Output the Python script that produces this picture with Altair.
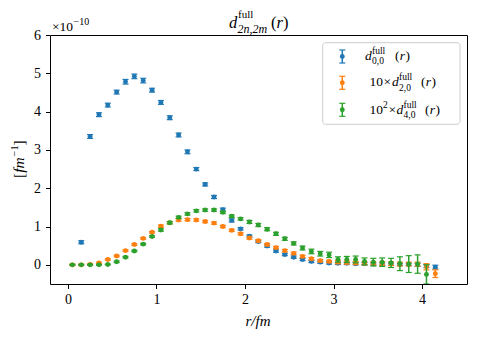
import altair as alt
import pandas as pd

# ---------------- data (units of 1e-10 fm^-1) ----------------
r_blue = [0.15, 0.25, 0.35, 0.45, 0.55, 0.65, 0.75, 0.85, 0.95, 1.05,
          1.15, 1.25, 1.35, 1.45, 1.55, 1.65, 1.75, 1.85, 1.95, 2.05,
          2.15, 2.25, 2.35, 2.45, 2.55, 2.65, 2.75, 2.85, 2.95, 3.05,
          3.15, 3.25, 3.35, 3.45, 3.55, 3.65, 3.75, 3.85, 3.95, 4.05, 4.15]
d00 = [0.59, 3.35, 3.92, 4.17, 4.51, 4.78, 4.92, 4.81, 4.56, 4.24,
       3.84, 3.39, 2.95, 2.50, 2.10, 1.77, 1.44, 1.16, 0.94, 0.75,
       0.61, 0.49, 0.36, 0.27, 0.20, 0.14, 0.09, 0.07, 0.05, 0.04,
       0.04, 0.03, 0.03, 0.02, 0.02, 0.02, 0.01, 0.01, 0.00, -0.03, -0.06]
d00_err = [0.04, 0.05, 0.05, 0.05, 0.05, 0.06, 0.06, 0.06, 0.05, 0.05,
           0.05, 0.05, 0.05, 0.04, 0.04, 0.04, 0.04, 0.04, 0.03, 0.03,
           0.03, 0.03, 0.03, 0.03, 0.03, 0.03, 0.03, 0.03, 0.03, 0.03,
           0.03, 0.03, 0.03, 0.03, 0.03, 0.03, 0.03, 0.03, 0.04, 0.04, 0.05]

r_orange = [0.05, 0.15, 0.25, 0.35, 0.45, 0.55, 0.65, 0.75, 0.85, 0.95,
            1.05, 1.15, 1.25, 1.35, 1.45, 1.55, 1.65, 1.75, 1.85, 1.95,
            2.05, 2.15, 2.25, 2.35, 2.45, 2.55, 2.65, 2.75, 2.85, 2.95,
            3.05, 3.15, 3.25, 3.35, 3.45, 3.55, 3.65, 3.75, 3.85, 3.95,
            4.05, 4.15]
d20 = [0.00, 0.00, 0.01, 0.05, 0.14, 0.23, 0.37, 0.53, 0.69, 0.85,
       1.01, 1.10, 1.17, 1.18, 1.17, 1.13, 1.09, 1.00, 0.90, 0.81,
       0.70, 0.63, 0.53, 0.45, 0.37, 0.30, 0.22, 0.16, 0.11, 0.09,
       0.07, 0.06, 0.05, 0.04, 0.04, 0.03, 0.03, 0.02, 0.02, 0.02,
       -0.05, -0.23]
d20_err = [0.02, 0.02, 0.02, 0.02, 0.02, 0.02, 0.02, 0.02, 0.02, 0.02,
           0.03, 0.03, 0.03, 0.03, 0.03, 0.03, 0.03, 0.03, 0.03, 0.03,
           0.03, 0.03, 0.03, 0.03, 0.03, 0.03, 0.03, 0.03, 0.03, 0.03,
           0.04, 0.04, 0.04, 0.04, 0.04, 0.05, 0.05, 0.05, 0.05, 0.05,
           0.08, 0.10]

r_green = [0.05, 0.15, 0.25, 0.35, 0.45, 0.55, 0.65, 0.75, 0.85, 0.95,
           1.05, 1.15, 1.25, 1.35, 1.45, 1.55, 1.65, 1.75, 1.85, 1.95,
           2.05, 2.15, 2.25, 2.35, 2.45, 2.55, 2.65, 2.75, 2.85, 2.95,
           3.05, 3.15, 3.25, 3.35, 3.45, 3.55, 3.65, 3.75, 3.85, 3.95,
           4.05]
d40 = [0.00, 0.00, 0.00, 0.00, 0.01, 0.08, 0.20, 0.36, 0.54, 0.74,
       0.91, 1.10, 1.24, 1.33, 1.41, 1.43, 1.43, 1.37, 1.27, 1.20,
       1.12, 1.04, 0.93, 0.81, 0.68, 0.56, 0.44, 0.35, 0.29, 0.26,
       0.14, 0.14, 0.14, 0.09, 0.07, 0.07, 0.05, 0.03, 0.02, 0.02,
       -0.25]
d40_err = [0.01, 0.01, 0.01, 0.01, 0.01, 0.02, 0.02, 0.02, 0.02, 0.02,
           0.03, 0.03, 0.03, 0.03, 0.03, 0.03, 0.03, 0.03, 0.03, 0.03,
           0.04, 0.04, 0.04, 0.04, 0.04, 0.04, 0.05, 0.06, 0.06, 0.07,
           0.07, 0.08, 0.09, 0.09, 0.10, 0.11, 0.12, 0.18, 0.22, 0.24,
           0.25]

x_ticks = [0, 1, 2, 3, 4]
y_ticks = [0, 1, 2, 3, 4, 5, 6]

series = [
    ("d00", r_blue, d00, d00_err, "#1f77b4"),
    ("d20", r_orange, d20, d20_err, "#ff7f0e"),
    ("d40", r_green, d40, d40_err, "#2ca02c"),
]

FONT = "Liberation Serif"
W, H = 417, 249

xs = alt.Scale(domain=[-0.203, 4.508], nice=False, zero=False)
ys = alt.Scale(domain=[-0.5, 6.0], nice=False, zero=False)

axis_common = dict(title=None, grid=False, domain=False, tickSize=4.5, tickWidth=1,
                   tickColor="black", labelFont=FONT, labelFontSize=14,
                   labelColor="black", format="d")
xax = alt.Axis(values=x_ticks, labelPadding=4, **axis_common)
yax = alt.Axis(values=y_ticks, labelPadding=5, **axis_common)

layers = []
for name, rs, vs, es, col in series:
    df = pd.DataFrame({"r": rs, "v": vs, "e": es})
    base = alt.Chart(df).transform_calculate(lo="datum.v - datum.e", hi="datum.v + datum.e")
    X = alt.X("r:Q", scale=xs, axis=xax)
    layers.append(base.mark_rule(color=col, strokeWidth=1.5, clip=True).encode(
        x=X, y=alt.Y("lo:Q", scale=ys, axis=yax), y2="hi:Q"))
    for f in ("lo", "hi"):
        layers.append(base.mark_tick(color=col, orient="horizontal", size=6, thickness=1.2,
                                     opacity=1, clip=True).encode(
            x=X, y=alt.Y(f + ":Q", scale=ys, axis=yax)))
    layers.append(base.mark_point(color=col, filled=True, size=24, opacity=1, clip=True).encode(
        x=X, y=alt.Y("v:Q", scale=ys, axis=yax)))

one = pd.DataFrame({"k": [0]})


def txt(s, x, y, size=12, style="normal", align="left", angle=0, baseline="alphabetic"):
    return alt.Chart(one).mark_text(text=s, font=FONT, fontSize=size, fontStyle=style,
                                    align=align, baseline=baseline, angle=angle,
                                    color="black").encode(x=alt.value(x), y=alt.value(y))


# offset text
layers.append(txt("×10", 2, -4.5, 13.5))
layers.append(txt("−10", 23.5, -10, 10))

# title  d^{full}_{2n,2m}(r)
layers.append(txt("d", 179, -7, 16.5, "italic"))
layers.append(txt("full", 188, -17, 11))
layers.append(txt("2n,2m", 187.5, -2.5, 12, "italic"))
layers.append(txt("(", 221, -7, 16.5))
layers.append(txt("r", 226.5, -7, 16.5, "italic"))
layers.append(txt(")", 233, -7, 16.5))

# axis titles
layers.append(txt("r/fm", 208, 291, 15, "italic", align="center"))
# y title  [fm^{-1}] written bottom-to-top
YB = -26.5
layers.append(txt("[", YB, 143, 15.5, angle=270))
layers.append(txt("fm", YB, 137.8, 15.5, "italic", angle=270))
layers.append(txt("−1", YB - 5.5, 121.5, 10.5, angle=270))
layers.append(txt("]", YB, 110.5, 15.5, angle=270))

# legend frame
layers.append(alt.Chart(one).mark_rect(fill="white", fillOpacity=0.8, stroke="#cccccc",
                                       strokeWidth=1, cornerRadius=3).encode(
    x=alt.value(272.7), x2=alt.value(410), y=alt.value(7.7), y2=alt.value(89.3)))

sym_x = 292.3
for (name, rs, vs, es, col), cy in zip(series, [21.5, 47.8, 74.8]):
    layers.append(alt.Chart(one).mark_rule(color=col, strokeWidth=1.5).encode(
        x=alt.value(sym_x), y=alt.value(cy - 6.5), y2=alt.value(cy + 6.5)))
    for dy in (-6.5, 6.5):
        layers.append(alt.Chart(one).mark_rule(color=col, strokeWidth=1.2).encode(
            x=alt.value(sym_x - 3), x2=alt.value(sym_x + 3), y=alt.value(cy + dy)))
    layers.append(alt.Chart(one).mark_point(color=col, filled=True, size=24, opacity=1).encode(
        x=alt.value(sym_x), y=alt.value(cy)))

LS, SS = 13.5, 9.5
SUP, SUB = -6, 4.5
# label 1
b = 24.8
layers += [txt("d", 315, b, LS, "italic"), txt("full", 322, b + SUP, SS),
           txt("0,0", 322, b + SUB, SS), txt("(", 345, b, LS), txt("r", 349.8, b, LS, "italic"),
           txt(")", 355.5, b, LS)]
# label 2
b = 51.2
layers += [txt("10", 319.5, b, LS), txt("×", 333.5, b, LS), txt("d", 342, b, LS, "italic"),
           txt("full", 349, b + SUP, SS), txt("2,0", 349, b + SUB, SS),
           txt("(", 371, b, LS), txt("r", 375.8, b, LS, "italic"), txt(")", 381.5, b, LS)]
# label 3
b = 78.8
layers += [txt("10", 319.5, b, LS), txt("2", 333, b - 6, SS), txt("×", 338.5, b, LS),
           txt("d", 346.5, b, LS, "italic"), txt("full", 353.5, b + SUP, SS),
           txt("4,0", 353.5, b + SUB, SS),
           txt("(", 375, b, LS), txt("r", 379.8, b, LS, "italic"), txt(")", 385.5, b, LS)]

chart = alt.layer(*layers).properties(
    width=W, height=H,
    autosize=alt.AutoSizeParams(type="none"),
    padding={"left": 42, "top": 27, "right": 3, "bottom": 47},
    background="white",
).configure_view(stroke="black", strokeWidth=1)

chart.save("out.html", embed_options={"renderer": "svg", "actions": False})
